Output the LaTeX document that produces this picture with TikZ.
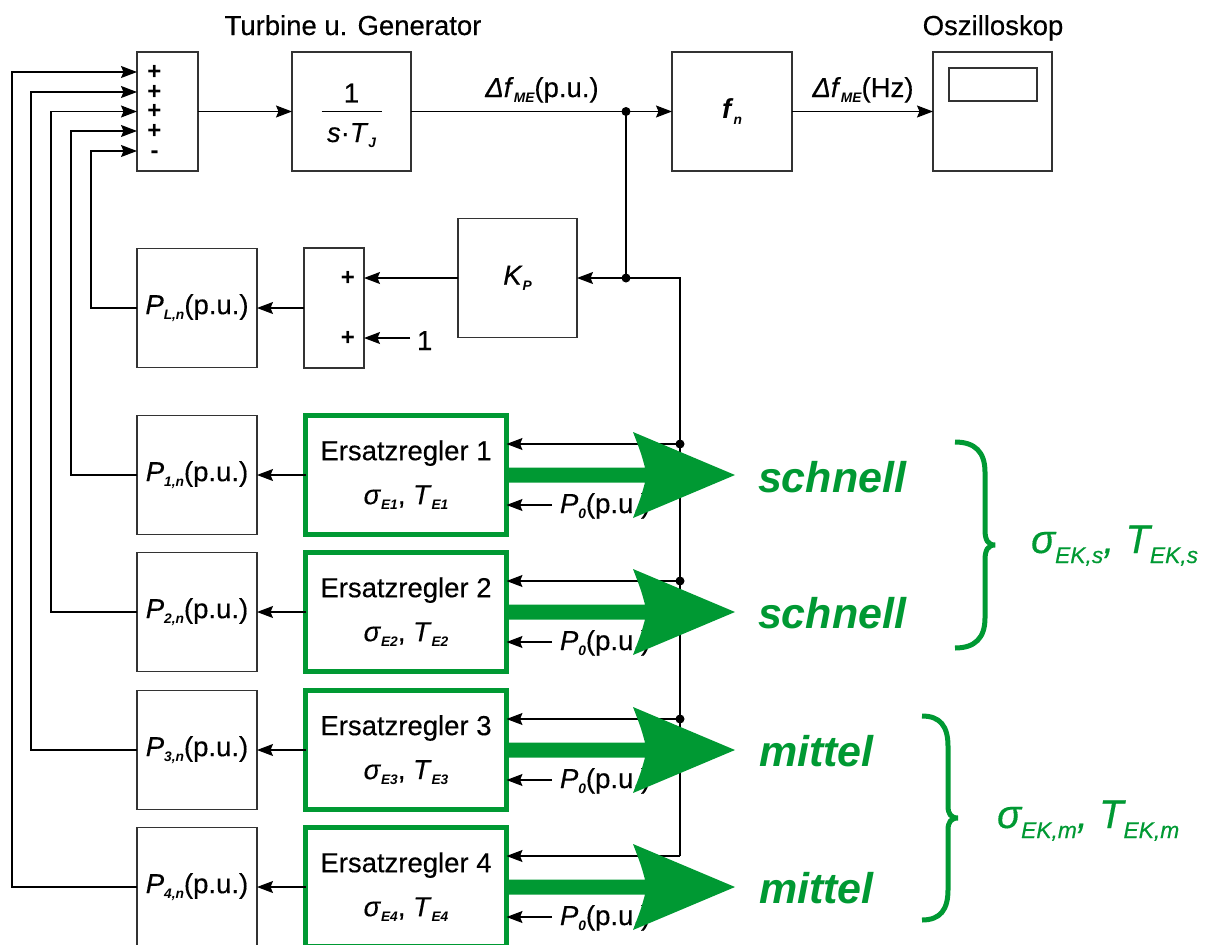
\documentclass[tikz,border=0pt]{standalone}
\usepackage{fontspec}
\setmainfont{Liberation Sans}[UprightFeatures={FakeBold=0.35},ItalicFeatures={FakeBold=0.35}]
\usepackage{graphicx}
\usetikzlibrary{arrows.meta,calc}
\definecolor{regelgruen}{RGB}{0,153,51}
% lowered, reduced indices for the block labels
\newcommand\sbs[1]{\raisebox{-0.2em}{\scalebox{0.5}{\bfseries\itshape #1}}}
\newcommand\gsbs[1]{\raisebox{-0.25em}{\scalebox{0.57}{\itshape #1}}}
\begin{document}
\begin{tikzpicture}[x=1pt,y=-1pt,
  every node/.style={font=\fontsize{27.5}{30}\selectfont, inner sep=0pt, outer sep=0pt},
  blk/.style={draw=black!80, line width=1.1pt, minimum width=120pt, minimum height=119pt},
  ereg/.style={draw=regelgruen, line width=5pt, minimum width=201pt, minimum height=119pt,
               align=center, font=\fontsize{27.5}{44}\selectfont},
  ln/.style={line width=1.1pt, draw=black},
  arr/.style={ln, -{Stealth[length=16pt,width=12pt,inset=2.5pt]}},
  sign/.style={font=\fontsize{24}{24}\selectfont\bfseries},
  speed/.style={font=\fontsize{43}{43}\selectfont\bfseries\itshape, text=regelgruen, anchor=base west},
  gpar/.style={font=\fontsize{40}{40}\selectfont\itshape, text=regelgruen, anchor=base west},
  brace/.style={draw=regelgruen, line width=5pt},
  junction/.style={fill=black}
]
\useasboundingbox (0,0) rectangle (1205,945);

% ---------- upper loop: turbine/generator, scaling, oscilloscope ----------
\node[blk, minimum width=61pt] (sum) at (167.5,111.5) {};
\node[sign] (sg1) at (154.5,72) {+};
\node[sign] (sg2) at (154.5,92) {+};
\node[sign] (sg3) at (154.5,111.5) {+};
\node[sign] (sg4) at (154.5,131) {+};
\node[sign] (sg5) at (154.5,151) {\vphantom{+}-};
\coordinate (in1) at (137,72);
\coordinate (in2) at (137,92);
\coordinate (in3) at (137,111.5);
\coordinate (in4) at (137,131);
\coordinate (in5) at (137,151);

\node[blk, minimum width=119pt] (tf) at (351.5,111.5) {};
\node (tfnum) at (351.5,93) {1};
\node[anchor=base] (tfden) at (351.5,142) {\textit{s}·\textit{T}\sbs{J}};
\draw[ln] ($(tf.center)+(-30,0)$) -- ($(tf.center)+(30,0)$);

\node[blk] (fn) at (732,111.5) {\textbf{\textit{f}}\sbs{n}};
\node[blk, minimum width=119pt] (scope) at (992.5,111.5) {};
\node[draw=black!80, line width=1.1pt, minimum width=88pt, minimum height=33pt] (screen) at (993,84.5) {};

\node[anchor=base] (tglabel) at (353,35) {Turbine u. Generator};
\node[anchor=base] (osclabel) at (993,35) {Oszilloskop};
\node[anchor=base] (dfpu) at (542,97) {\textit{Δf}\sbs{ME}(p.u.)};
\node[anchor=base] (dfhz) at (863,97) {\textit{Δf}\sbs{ME}(Hz)};

\coordinate (j1) at (626,111.5);
\coordinate (j2) at (626,278);

\draw[arr] (sum.east) -- (tf.west);
\draw[ln] (tf.east) -- (j1);
\draw[arr] (j1) -- (fn.west);
\draw[arr] (fn.east) -- (scope.west);
\draw[ln] (j1) -- (j2);

% ---------- load branch ----------
\node[blk, minimum width=119pt] (kp) at (517.5,278) {\textit{K}\sbs{P}};
\node[blk, minimum width=60pt, minimum height=120pt] (sum2) at (334,308) {};
\node[sign] (sg6) at (348,278) {+};
\node[sign] (sg7) at (348,338) {+};
\node[blk] (pl) at (197,308) {\textit{P}\sbs{L,n}(p.u.)};
\node[anchor=base west] (one) at (417,350) {1};
\coordinate (onein) at (410,338);

\draw[arr] (j2) -- (kp.east);
\draw[arr] (kp.west) -- (kp.west -| sum2.east);
\draw[arr] (onein) -- (onein -| sum2.east);
\draw[arr] (sum2.west) -- (pl.east);
\draw[arr] (pl.west) -- ++(-46,0) |- (in5);

% ---------- equivalent governors ----------
\foreach \i/\r in {1/475,2/612,3/750,4/887}{
  \node[blk] (p\i) at (197,\r) {\textit{P}\sbs{\i,n}(p.u.)};
  \node[ereg] (e\i) at (406,\r) {Ersatzregler \i\\\textit{σ}\sbs{E\i},\ \textit{T}\sbs{E\i}};
  \node[anchor=base west] (p0t\i) at (560,\r+38) {\textit{P}\sbs{0}(p.u.)};
  \coordinate (p0s\i) at (552,\r+30);
  \coordinate (fb\i) at (680,\r-31);
  \draw[arr] (e\i.west) -- (p\i.east);
  \draw[arr] (p0s\i) -- (p0s\i -| e\i.east);
  \draw[arr] (fb\i) -- (fb\i -| e\i.east);
}
\draw[ln] (j2) -| (fb1) -- (fb4);

\draw[arr] (p1.west) -- ++(-66,0) |- (in4);
\draw[arr] (p2.west) -- ++(-86,0) |- (in3);
\draw[arr] (p3.west) -- ++(-106,0) |- (in2);
\draw[arr] (p4.west) -- ++(-125,0) |- (in1);

\foreach \c in {j1,j2,fb1,fb2,fb3}{
  \fill[junction] (\c) circle (4.5pt);
}

% ---------- green speed classes ----------
\foreach \r in {475,612,750,887}{
  \fill[regelgruen] (506,\r-7.5) -- (645,\r-7.5) .. controls (641,\r-22) .. (633,\r-43)
    -- (735,\r) -- (633,\r+43) .. controls (641,\r+22) .. (645,\r+7.5) -- (506,\r+7.5) -- cycle;
}
\node[speed] (sp1) at (758,492) {schnell};
\node[speed] (sp2) at (758,628) {schnell};
\node[speed] (sp3) at (759,766) {mittel};
\node[speed] (sp4) at (759,903) {mittel};

\draw[brace] (955,442) .. controls (975,442) and (985,452) .. (985,472) -- (985,530)
  .. controls (985,540) and (988,545) .. (995,545) .. controls (988,545) and (985,550) .. (985,560)
  -- (985,618) .. controls (985,638) and (975,648) .. (955,648);
\draw[brace] (922,716) .. controls (940,716) and (948,726) .. (948,746) -- (948,806)
  .. controls (948,814) and (951,818) .. (958,818) .. controls (951,818) and (948,822) .. (948,830)
  -- (948,890) .. controls (948,910) and (940,920) .. (922,920);

\node[gpar] (gs) at (1031,553) {σ\gsbs{EK,s},\ T\gsbs{EK,s}};
\node[gpar] (gm) at (997,828) {σ\gsbs{EK,m},\ T\gsbs{EK,m}};
\end{tikzpicture}
\end{document}
